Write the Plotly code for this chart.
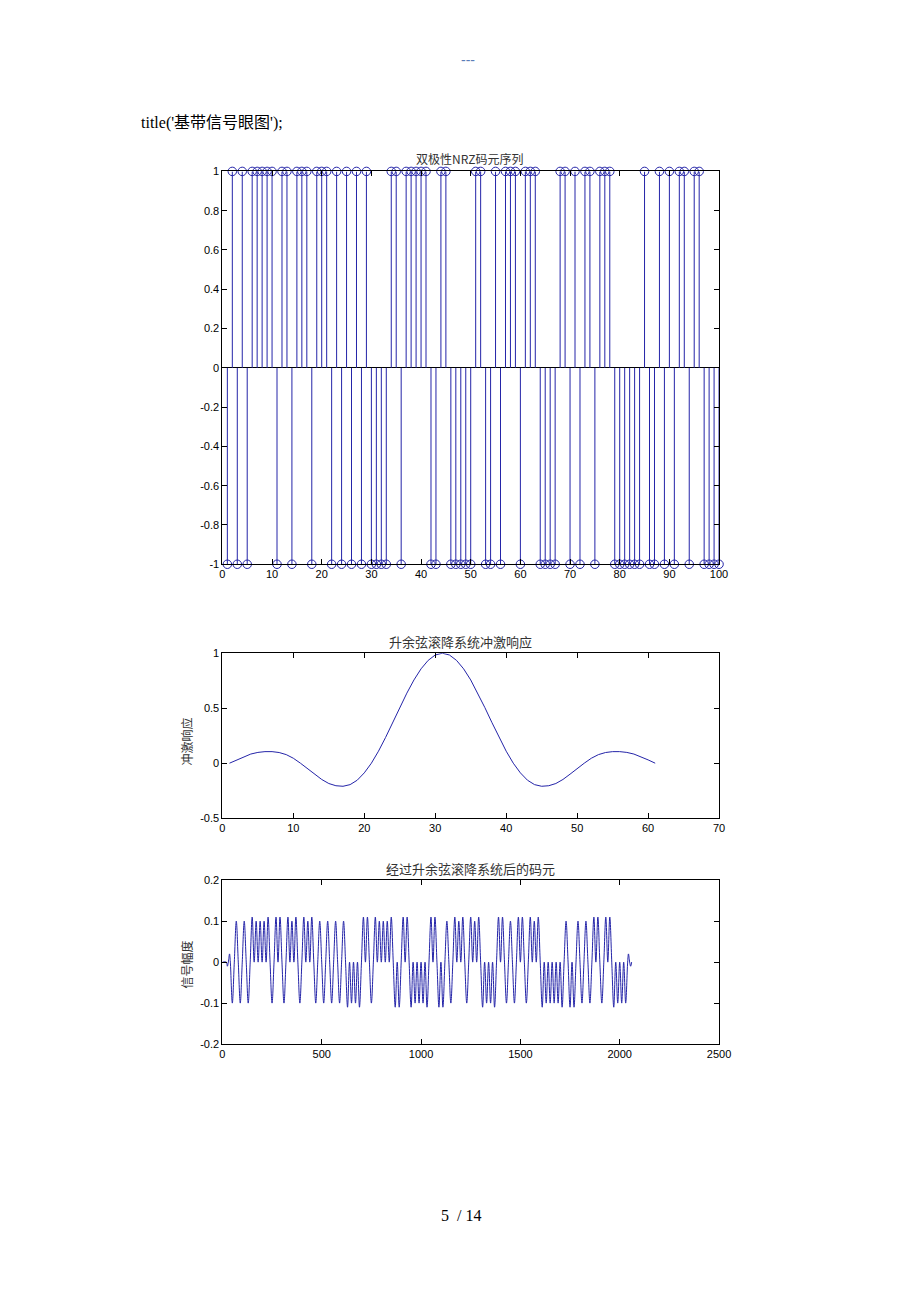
import plotly.graph_objects as go

# bipolar NRZ symbols, index 1..100
symbols = [-1, 1, -1, 1, -1, 1, 1, 1, 1, 1,
           -1, 1, 1, -1, 1, 1, 1, -1, 1, 1,
           1, -1, 1, -1, 1, -1, 1, -1, 1, -1,
           -1, -1, -1, 1, 1, -1, 1, 1, 1, 1,
           1, -1, -1, 1, 1, -1, -1, -1, -1, -1,
           1, 1, -1, -1, 1, -1, 1, 1, 1, -1,
           1, 1, 1, -1, -1, -1, -1, 1, 1, -1,
           1, -1, 1, 1, -1, 1, 1, 1, -1, -1,
           -1, -1, -1, -1, 1, -1, -1, 1, -1, 1,
           -1, 1, 1, -1, 1, 1, -1, -1, -1, -1]
sym_idx = list(range(1, 101))

# raised cosine impulse response, samples 1..61
impulse = [0.000, 0.030, 0.060, 0.083, 0.098, 0.105, 0.105, 0.097, 0.078, 0.045,
           0.000, -0.048, -0.100, -0.148, -0.185, -0.205, -0.210, -0.195, -0.155, -0.088,
           0.000, 0.109, 0.234, 0.368, 0.505, 0.637, 0.757, 0.858, 0.935, 0.984,
           1.000,
           0.984, 0.935, 0.858, 0.757, 0.637, 0.505, 0.368, 0.234, 0.109, 0.000,
           -0.088, -0.155, -0.195, -0.210, -0.205, -0.185, -0.148, -0.100, -0.048, 0.000,
           0.045, 0.078, 0.097, 0.105, 0.105, 0.098, 0.083, 0.060, 0.030, 0.000]
imp_idx = list(range(1, 62))

# filtered signal, read at peaks / zero points
sig_t = [1, 20, 25, 30, 36, 40] + list(range(50, 2031, 10)) + [2040, 2044, 2050, 2055, 2060]
sig_v = ([0, 0, -0.01, 0, 0.02, 0] +
         [-0.10, 0, 0.10, 0, -0.10, 0, 0.10, 0, -0.10, 0, 0.11, 0, 0.10, 0, 0.10, 0, 0.10, 0, 0.11, 0,
          -0.10, 0, 0.11, 0, 0.11, 0, -0.10, 0, 0.11, 0, 0.10, 0, 0.11, 0, -0.10, 0, 0.11, 0, 0.10, 0,
          0.11, 0, -0.10, 0, 0.10, 0, -0.10, 0, 0.10, 0, -0.10, 0, 0.10, 0, -0.10, 0, 0.10, 0, -0.11, 0,
          -0.10, 0, -0.10, 0, -0.11, 0, 0.11, 0, 0.11, 0, -0.10, 0, 0.11, 0, 0.10, 0, 0.10, 0, 0.10, 0,
          0.11, 0, -0.11, 0, -0.11, 0, 0.11, 0, 0.11, 0, -0.11, 0, -0.10, 0, -0.10, 0, -0.10, 0, -0.11, 0,
          0.11, 0, 0.11, 0, -0.11, 0, -0.11, 0, 0.10, 0, -0.10, 0, 0.11, 0, 0.10, 0, 0.11, 0, -0.10, 0,
          0.11, 0, 0.10, 0, 0.11, 0, -0.11, 0, -0.10, 0, -0.10, 0, -0.11, 0, 0.11, 0, 0.11, 0, -0.10, 0,
          0.10, 0, -0.10, 0, 0.11, 0, 0.11, 0, -0.10, 0, 0.11, 0, 0.10, 0, 0.11, 0, -0.11, 0, -0.10, 0,
          -0.10, 0, -0.10, 0, -0.10, 0, -0.11, 0, 0.10, 0, -0.11, 0, -0.11, 0, 0.10, 0, -0.10, 0, 0.10, 0,
          -0.10, 0, 0.11, 0, 0.11, 0, -0.10, 0, 0.11, 0, 0.11, 0, -0.11, 0, -0.10, 0, -0.10, 0, -0.10] +
         [0, 0.02, 0, -0.01, 0])

# tick labels
t1_vals = [1, 0.8, 0.6, 0.4, 0.2, 0, -0.2, -0.4, -0.6, -0.8, -1]
t1_text = ['1', '0.8', '0.6', '0.4', '0.2', '0', '-0.2', '-0.4', '-0.6', '-0.8', '-1']
t2_vals = [1, 0.5, 0, -0.5]
t2_text = ['1', '0.5', '0', '-0.5']
t3_vals = [0.2, 0.1, 0, -0.1, -0.2]
t3_text = ['0.2', '0.1', '0', '-0.1', '-0.2']

BLUE = '#2424a8'
PAD = 8
W, H = 900, 1280

# page pixel -> paper fraction (the shot comes out slightly shrunk, so stretch a bit)
def px(x):
    return ((x - 2.6) / 0.984 - PAD) / W

def py(y):
    return 1 - ((y - 5.6) / 0.991 - PAD) / H

# stems
sx, sy = [], []
for i, s in zip(sym_idx, symbols):
    sx += [i, i, None]
    sy += [0, s, None]

fig = go.Figure()
fig.add_trace(go.Scatter(x=sx, y=sy, mode='lines', line=dict(color=BLUE, width=1),
                         xaxis='x', yaxis='y', hoverinfo='skip'))
fig.add_trace(go.Scatter(x=sym_idx, y=symbols, mode='markers', cliponaxis=False,
                         marker=dict(symbol='circle-open', size=8.5, color=BLUE, line=dict(width=1, color=BLUE)),
                         xaxis='x', yaxis='y'))
fig.add_trace(go.Scatter(x=imp_idx, y=impulse, mode='lines', line=dict(color=BLUE, width=1),
                         xaxis='x2', yaxis='y2'))
fig.add_trace(go.Scatter(x=sig_t, y=sig_v, mode='lines', line=dict(color=BLUE, width=1, shape='spline', smoothing=1),
                         xaxis='x3', yaxis='y3'))

tickfont = dict(family='Liberation Sans, Arial', size=11, color='black')
common = dict(showline=True, linecolor='black', linewidth=1, mirror='ticks', ticks='inside',
              ticklen=5, tickcolor='black', showgrid=False, zeroline=False, tickfont=tickfont)

xd = [px(222), px(719)]
def yd(top, bottom):
    return [py(bottom), py(top)]

fig.update_layout(
    width=W, height=H, autosize=False, showlegend=False,
    margin=dict(l=0, r=0, t=0, b=0),
    paper_bgcolor='white', plot_bgcolor='white',
    xaxis=dict(common, domain=xd, anchor='y', range=[0, 100], tickvals=list(range(0, 101, 10))),
    yaxis=dict(common, domain=yd(171, 564), anchor='x', range=[-1, 1], tickvals=t1_vals, ticktext=t1_text,
               zeroline=True, zerolinecolor='black', zerolinewidth=1),
    xaxis2=dict(common, domain=xd, anchor='y2', range=[0, 70], tickvals=list(range(0, 71, 10))),
    yaxis2=dict(common, domain=yd(653, 818), anchor='x2', range=[-0.5, 1], tickvals=t2_vals, ticktext=t2_text),
    xaxis3=dict(common, domain=xd, anchor='y3', range=[0, 2500], tickvals=list(range(0, 2501, 500))),
    yaxis3=dict(common, domain=yd(880, 1044), anchor='x3', range=[-0.2, 0.2], tickvals=t3_vals, ticktext=t3_text),
)

cjk = 'Noto Sans CJK SC'
serif = 'Liberation Serif, Noto Sans CJK SC'
def note(text, x, y, size, family, color='black', angle=0, xanchor='center'):
    fig.add_annotation(text=text, x=px(x), y=py(y), xref='paper', yref='paper', showarrow=False,
                       xanchor=xanchor, yanchor='middle', textangle=angle,
                       font=dict(family=family, size=size, color=color))

note('---', 468, 60, 14, 'Liberation Sans', color='#5a7db8')
note("title('基带信号眼图');", 139, 123, 16, serif, xanchor='left')
note('双极性NRZ码元序列', 469, 158, 12, cjk, color='#333')
note('升余弦滚降系统冲激响应', 460, 641, 13, cjk, color='#333')
note('经过升余弦滚降系统后的码元', 470, 868, 13, cjk, color='#333')
note('冲激响应', 186, 741, 12, cjk, color='#333', angle=-90)
note('信号幅度', 186, 964, 12, cjk, color='#333', angle=-90)
note('5  / 14', 461, 1215, 16, serif)

fig.write_html("out.html")
